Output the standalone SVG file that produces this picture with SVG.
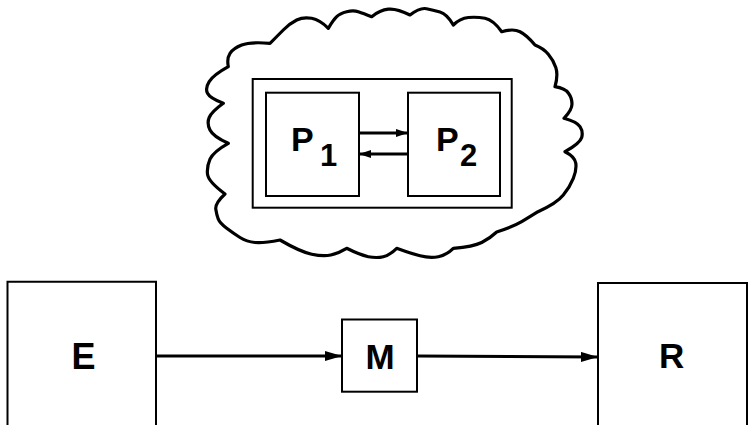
<svg xmlns="http://www.w3.org/2000/svg" width="751" height="425" viewBox="0 0 751 425">
<style>
.box{fill:none;stroke:#000;stroke-width:2}
.cloud{fill:none;stroke:#000;stroke-width:3.2;stroke-linejoin:round}
.lbl{font-family:"Liberation Sans",Arial,sans-serif;font-weight:bold;fill:#000}
.big{stroke:#000;stroke-width:3;fill:none}
.small{stroke:#000;stroke-width:2.8;fill:none}
</style>
<defs>
<marker id="ahBig" markerUnits="userSpaceOnUse" markerWidth="17" markerHeight="10" refX="17" refY="5" orient="auto">
<path d="M0,0 L17,5 L0,10 Z" fill="#000"/>
</marker>
<marker id="ahSmall" markerUnits="userSpaceOnUse" markerWidth="12" markerHeight="8" refX="12" refY="4" orient="auto">
<path d="M0,0 L12,4 L0,8 Z" fill="#000"/>
</marker>
</defs>
<rect width="751" height="425" fill="#fff"/>
<g id="cloud">
<path class="cloud" d="M228.3,66.7 Q226.7,58.3 230,53.3 Q233.3,48.3 241.7,45 Q250,41.7 270,43.3
Q276.7,36.7 283.3,30 Q290,23.3 296.7,20 Q303.3,16.7 311.7,18.3 Q320,20 328.3,28.3
Q333.3,20 336.7,16.7 Q340,13.3 346.7,11.7 Q353.3,10 358.3,11.7 Q363.3,13.3 371.7,16.7
Q380,10 388.3,9.2 Q396.7,8.3 410,15
Q420,7.3 426.5,8.7 Q433,10 440,12 Q447,14 453.3,25
Q460,18.3 468.3,17.5 Q476.7,16.7 485,18.3 Q493.3,20 501.7,31.7
Q513.3,28.3 520,31.7 Q526.7,35 535,45
Q543.3,48.3 548.3,54.2 Q553.3,60 555.8,67.5 Q558.3,75 555,86.7
Q565,88.3 568.5,93.2 Q572,98 572,104 Q572,110 564,118.3
Q576.7,121.7 580,126.7 Q583.3,131.7 581.7,137.5 Q580,143.3 565,151.7
Q575,156.7 575.8,163.3 Q576.7,170 573.3,178.3 Q570,186.7 563.3,195 Q556.7,203.3 538,211.7
Q530,216.7 521.7,221.7 Q513.3,226.7 496.7,232
Q490,238.3 481.7,242.5 Q473.3,246.7 453.3,248.3
Q446.7,255 438.3,256.7 Q430,258.3 420,255.8 Q410,253.3 396.7,248.3
Q390,255 383.3,256.7 Q376.7,258.3 368.3,256.7 Q360,255 346.7,248.3
Q338.3,253.3 330.8,255 Q323.3,256.7 311.7,254.2 Q300,251.7 280,240
Q263.3,243.3 255,242.5 Q246.7,241.7 240,237.5 Q233.3,233.3 226.7,228.3 Q220,223.3 218.3,219.2 Q216.7,215 215.8,209.2 Q215,203.3 225,194
Q208.3,181.7 207.5,174.2 Q206.7,166.7 210,159.2 Q213.3,151.7 228.3,143.3
Q213.3,136.7 210,130 Q206.7,123.3 209.2,117.5 Q211.7,111.7 223.3,103.3
Q210,98.3 207.5,93.3 Q205,88.3 209.2,81.7 Q213.3,75 228.3,66.7 Z"/>
</g>
<g id="system">
<rect class="box" x="252.7" y="79" width="259" height="128.7"/>
</g>
<g id="P1">
<rect class="box" x="266" y="92.7" width="93" height="103.3"/>
<text class="lbl" x="291" y="151" font-size="34">P<tspan x="320" y="166" font-size="31">1</tspan></text>
</g>
<g id="P2">
<rect class="box" x="408" y="92.7" width="92" height="103.3"/>
<text class="lbl" x="436" y="151" font-size="34">P<tspan x="460" y="166" font-size="31">2</tspan></text>
</g>
<g id="E">
<path class="box" d="M7.5,430 V281.7 H156 V430"/>
<text class="lbl" x="83.5" y="369.3" font-size="36" text-anchor="middle">E</text>
</g>
<g id="M">
<rect class="box" x="342" y="319.5" width="75" height="72.2"/>
<text class="lbl" x="380" y="369" font-size="35" text-anchor="middle">M</text>
</g>
<g id="R">
<path class="box" d="M598,430 V283 H747 V430"/>
<text class="lbl" x="671.7" y="368.3" font-size="35" text-anchor="middle">R</text>
</g>
<g id="connectors">
<line class="big" x1="156" y1="356" x2="342" y2="356" marker-end="url(#ahBig)"/>
<line class="big" x1="417" y1="356" x2="598" y2="357" marker-end="url(#ahBig)"/>
<line class="small" x1="359" y1="133" x2="408" y2="133" marker-end="url(#ahSmall)"/>
<line class="small" x1="408" y1="154" x2="359" y2="154" marker-end="url(#ahSmall)"/>
</g>
</svg>
